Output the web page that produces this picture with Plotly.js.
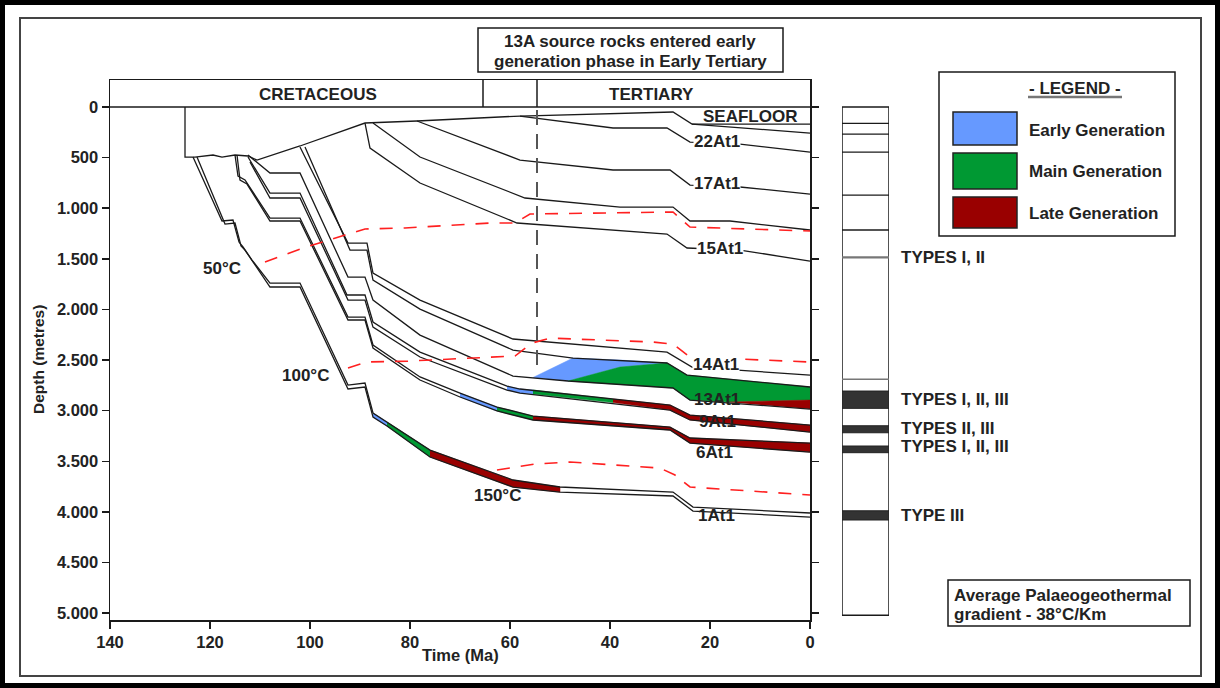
<!DOCTYPE html>
<html><head><meta charset="utf-8">
<script src="https://cdn.plot.ly/plotly-3.0.1.min.js"></script>
<style>html,body{margin:0;padding:0;background:#fff;}#chart{width:1220px;height:688px;}</style>
</head><body><div id="chart"></div>
<script>
// ================= DATA (time in Ma, depth in metres) =================
const xTickVals = [140, 120, 100, 80, 60, 40, 20, 0];
const xTickText = ['140', '120', '100', '80', '60', '40', '20', '0'];
const yTickVals = [0, 500, 1000, 1500, 2000, 2500, 3000, 3500, 4000, 4500, 5000];
const yTickText = ['0', '500', '1.000', '1.500', '2.000', '2.500', '3.000', '3.500', '4.000', '4.500', '5.000'];

const periodNames = ['CRETACEOUS', 'TERTIARY'];
const periodLabelAge = [98.4, 31.8];
const periodBoundaryAges = [65.4, 54.6];
const earlyGenAge = 54.6;
const earlyGenDepths = [30, 2560];

// burial-history horizons
const seafloorT = [125, 125, 123, 119.4, 117.6, 115, 112.4, 110.6, 102, 89, 78.6, 58, 27.4, 23.6, 0];
const seafloorD = [0, 494, 494, 474, 494, 474, 484, 524, 385, 158, 138, 89, 49, 168, 168];
const horizonAT = [23.6, 0];
const horizonAD = [168, 257];
const h22T = [58, 39.4, 28.6, 24, 14, 0];
const h22D = [89, 207, 207, 346, 366, 445];
const h17T = [78.6, 58, 39.4, 28, 24, 14, 0];
const h17D = [138, 524, 622, 622, 771, 790, 860];
const horizonBT = [87.4, 78, 57, 38, 27.4, 24, 16, 0];
const horizonBD = [158, 494, 899, 988, 988, 1126, 1126, 1215];
const h15T = [89, 88, 78, 58.6, 28.6, 24.6, 14, 0];
const h15D = [158, 405, 751, 1146, 1255, 1393, 1413, 1522];
const h14TopT = [102, 92.4, 88.6, 87.4, 78, 59.4, 28.6, 23.6, 0];
const h14TopD = [395, 1344, 1344, 1640, 1907, 2292, 2421, 2569, 2648];
const h14BaseT = [101, 92, 88.6, 87.4, 78, 59.4, 47.4, 28.6, 24.6, 0];
const h14BaseD = [395, 1413, 1413, 1709, 1996, 2401, 2480, 2529, 2648, 2766];
const h13BaseT = [112.4, 108, 102, 92.4, 89, 87.4, 78, 59.4, 48.4, 27.4, 24, 0];
const h13BaseD = [474, 652, 652, 1680, 1680, 1907, 2253, 2658, 2707, 2776, 2895, 2984];
const h9TopT = [112.4, 108, 102, 92.6, 89, 87.4, 78, 60.6, 58, 28, 24, 0];
const h9TopD = [494, 850, 850, 1857, 1857, 2124, 2421, 2757, 2786, 2944, 3043, 3142];
const h9BaseT = [112, 108, 102, 92.4, 89, 87.4, 78, 60.6, 58, 28, 24, 0];
const h9BaseD = [543, 899, 899, 1907, 1907, 2174, 2470, 2796, 2826, 2994, 3092, 3211];
const h6TopT = [115, 114.4, 113, 108, 102, 92.4, 89, 87.4, 78, 70, 62.6, 55.4, 28, 24, 0];
const h6TopD = [474, 682, 721, 1097, 1097, 2075, 2075, 2351, 2667, 2826, 2964, 3053, 3162, 3270, 3320];
const h6BaseT = [114.6, 114, 112.6, 108, 102, 92.4, 89, 87.4, 78, 70, 62.6, 55.4, 28, 24, 0];
const h6BaseD = [474, 721, 761, 1126, 1126, 2104, 2104, 2381, 2697, 2865, 3003, 3092, 3191, 3320, 3409];
const h1TopT = [123.4, 117.6, 115.4, 114.2, 113.4, 111.6, 108, 102, 92.4, 89, 87.4, 84.6, 76, 59.4, 50, 27.4, 23.4, 0];
const h1TopD = [494, 1126, 1116, 1334, 1383, 1512, 1739, 1739, 2747, 2727, 3023, 3112, 3389, 3685, 3754, 3804, 3952, 4011];
const h1BaseT = [122.6, 117, 115, 113.8, 113, 111.2, 108, 102, 92.4, 89, 87.4, 84.6, 76, 59.4, 50, 27.4, 23.4, 0];
const h1BaseD = [494, 1156, 1146, 1373, 1413, 1541, 1778, 1778, 2786, 2766, 3063, 3152, 3458, 3755, 3804, 3843, 3992, 4051];

// generation windows (bands between top and base of a source unit)
const g1EarlyT = [87.4, 84.6], g1EarlyTop = [3023, 3112], g1EarlyBase = [3063, 3152];
const g1MainT = [84.6, 76], g1MainTop = [3112, 3389], g1MainBase = [3152, 3458];
const g1LateT = [76, 59.4, 50], g1LateTop = [3389, 3685, 3754], g1LateBase = [3458, 3755, 3804];
const g6EarlyT = [70, 62.6], g6EarlyTop = [2826, 2964], g6EarlyBase = [2865, 3003];
const g6MainT = [62.6, 55.4], g6MainTop = [2964, 3053], g6MainBase = [3003, 3092];
const g6LateT = [55.4, 28, 24, 0], g6LateTop = [3053, 3162, 3270, 3320], g6LateBase = [3092, 3191, 3320, 3409];
const g9EarlyT = [60.6, 58, 55.4], g9EarlyTop = [2757, 2786, 2796], g9EarlyBase = [2796, 2826, 2835];
const g9MainT = [55.4, 39.4], g9MainTop = [2796, 2885], g9MainBase = [2835, 2920];
const g9LateT = [39.4, 28, 24, 0], g9LateTop = [2885, 2944, 3043, 3142], g9LateBase = [2920, 2994, 3092, 3211];
const g13EarlyT = [55.4, 47.4, 38, 28.6, 38, 48.4, 55.4];
const g13EarlyD = [2672, 2480, 2500, 2529, 2569, 2707, 2672];
const g13MainT = [48.4, 38, 28.6, 24.6, 0, 0, 16.6, 24, 27.4, 48.4];
const g13MainD = [2707, 2569, 2529, 2648, 2766, 2895, 2915, 2895, 2776, 2707];
const g13LateT = [16.6, 0, 0];
const g13LateD = [2915, 2895, 2984];

// isotherms
const iso50T = [109, 101.4, 93, 89, 81, 64, 59, 56, 27.4, 24, 0];
const iso50D = [1531, 1393, 1265, 1205, 1195, 1146, 1146, 1057, 1037, 1186, 1225];
const iso100T = [92.4, 88.6, 80.4, 72, 63.4, 59, 55.6, 52, 31.4, 27.4, 24, 0];
const iso100D = [2579, 2519, 2510, 2490, 2470, 2460, 2332, 2283, 2322, 2342, 2470, 2519];
const iso150T = [62.6, 55, 48, 30, 27, 24, 0];
const iso150D = [3586, 3527, 3507, 3567, 3636, 3754, 3833];
const isoNames = ['50°C', '100°C', '150°C'];

// lithology / kerogen column (present-day depths)
const colBaseDepth = 5020;
const colLineDepths = [161, 267, 445, 870, 1215];
const colGreyLineDepths = [1485, 2690];
const colBandTop = [2806, 3149, 3349, 3989];
const colBandBase = [2977, 3218, 3415, 4080];
const typeLabels = ['TYPES I, II', 'TYPES I, II, III', 'TYPES II, III', 'TYPES I, II, III', 'TYPE III'];
const typeLabelDepths = [1482, 2892, 3180, 3349, 4031];

const legendNames = ['Early Generation', 'Main Generation', 'Late Generation'];
const legendColors = ['#6699ff', '#009933', '#990000'];

// ================= LAYOUT HELPERS =================
const W = 1220, H = 688, ML = 110, MR = 10, MT = 80, MB = 68;
const PW = W - ML - MR, PH = H - MT - MB;
const PX = x => (x - ML) / PW;
const PY = y => (H - MB - y) / PH;
const FONT = 'Arial, "Liberation Sans", sans-serif';
const INK = '#1a1a1a';

const traces = [];
function band(t, top, base, color) {
  traces.push({x: t.concat(t.slice().reverse()), y: top.concat(base.slice().reverse()),
    type: 'scatter', mode: 'lines', fill: 'toself', fillcolor: color,
    line: {width: 0.5, color: color}, hoverinfo: 'skip', showlegend: false});
}
function poly(t, d, color) {
  traces.push({x: t, y: d, type: 'scatter', mode: 'lines', fill: 'toself', fillcolor: color,
    line: {width: 0.5, color: color}, hoverinfo: 'skip', showlegend: false});
}
function line(t, d, color, width, dash) {
  traces.push({x: t, y: d, type: 'scatter', mode: 'lines',
    line: {width: width, color: color, dash: dash || 'solid'}, hoverinfo: 'skip', showlegend: false});
}
const [cE, cM, cL] = legendColors;
band(g1EarlyT, g1EarlyTop, g1EarlyBase, cE);
band(g1MainT, g1MainTop, g1MainBase, cM);
band(g1LateT, g1LateTop, g1LateBase, cL);
band(g6EarlyT, g6EarlyTop, g6EarlyBase, cE);
band(g6MainT, g6MainTop, g6MainBase, cM);
band(g6LateT, g6LateTop, g6LateBase, cL);
band(g9EarlyT, g9EarlyTop, g9EarlyBase, cE);
band(g9MainT, g9MainTop, g9MainBase, cM);
band(g9LateT, g9LateTop, g9LateBase, cL);
poly(g13EarlyT, g13EarlyD, cE);
poly(g13MainT, g13MainD, cM);
poly(g13LateT, g13LateD, cL);

[[seafloorT, seafloorD], [horizonAT, horizonAD], [h22T, h22D], [h17T, h17D], [horizonBT, horizonBD],
 [h15T, h15D], [h14TopT, h14TopD], [h14BaseT, h14BaseD], [h13BaseT, h13BaseD], [h9TopT, h9TopD],
 [h9BaseT, h9BaseD], [h6TopT, h6TopD], [h6BaseT, h6BaseD], [h1TopT, h1TopD], [h1BaseT, h1BaseD]]
  .forEach(([t, d]) => line(t, d, INK, 1.3));

[[iso50T, iso50D], [iso100T, iso100D], [iso150T, iso150D]]
  .forEach(([t, d]) => line(t, d, '#ff2020', 1.6, '13px,11px'));
line([earlyGenAge, earlyGenAge], earlyGenDepths, '#555', 2, '15px,9px');

// ================= SHAPES =================
const shapes = [];
const rectP = (x0, y0, x1, y1, lc, lw, fc) => shapes.push({type: 'rect', xref: 'paper', yref: 'paper',
  x0: PX(x0), x1: PX(x1), y0: PY(y1), y1: PY(y0), line: {color: lc, width: lw}, fillcolor: fc || 'rgba(0,0,0,0)'});
rectP(2.5, 2.5, 1217.5, 685.5, '#000', 5);
rectP(20, 18, 1201, 676, '#444', 2);
rectP(478, 28, 783, 72, INK, 1.5);
rectP(939, 72, 1175, 236, INK, 1.5);
shapes.push({type: 'line', xref: 'paper', yref: 'paper', x0: PX(1028), x1: PX(1122), y0: PY(97), y1: PY(97), line: {color: '#777', width: 2.5}});
const swY = [[112, 145], [153, 189], [197, 228]];
legendColors.forEach((c, i) => rectP(953, swY[i][0], 1017, swY[i][1], '#222', 1.5, c));
rectP(948, 580, 1190, 626, INK, 1.5);

// time header
shapes.push({type: 'line', xref: 'x', yref: 'y', x0: 140, x1: 0, y0: 0, y1: 0, line: {color: INK, width: 1.5}});
periodBoundaryAges.forEach(a => shapes.push({type: 'line', xref: 'x', yref: 'y', x0: a, x1: a, y0: -267, y1: 0, line: {color: INK, width: 1.5}}));

// column
shapes.push({type: 'rect', xref: 'x2', yref: 'y', x0: 0, x1: 1, y0: 0, y1: colBaseDepth, line: {color: INK, width: 1.5}});
colLineDepths.forEach(d => shapes.push({type: 'line', xref: 'x2', yref: 'y', x0: 0, x1: 1, y0: d, y1: d, line: {color: INK, width: 1.3}}));
colGreyLineDepths.forEach((d, i) => shapes.push({type: 'line', xref: 'x2', yref: 'y', x0: 0, x1: 1, y0: d, y1: d, line: {color: '#777', width: i === 0 ? 2.2 : 1.5}}));
colBandTop.forEach((d, i) => shapes.push({type: 'rect', xref: 'x2', yref: 'y', x0: 0, x1: 1, y0: d, y1: colBandBase[i], fillcolor: '#333', line: {color: '#222', width: 1}}));

// ================= ANNOTATIONS =================
const anns = [];
function A(text, x, y, o) {
  o = o || {};
  anns.push(Object.assign({text: text, x: x, y: y, xref: 'paper', yref: 'paper', showarrow: false,
    xanchor: 'center', yanchor: 'middle', font: {family: FONT, size: o.size || 17, color: o.color || '#222', weight: 'bold'}}, o.extra || {}));
}
A('13A source rocks entered early', PX(630), PY(42));
A('generation phase in Early Tertiary', PX(630), PY(62));
A('- LEGEND -', PX(1075), PY(88));
const legY = [130, 171, 214];
legendNames.forEach((n, i) => A(n, PX(1027), PY(legY[i]), {extra: {xanchor: 'left'}}));
A('Average Palaeogeothermal', PX(952), PY(595), {extra: {xanchor: 'left'}});
A('gradient - 38°C/Km', PX(952), PY(614), {extra: {xanchor: 'left'}});
A('Depth (metres)', PX(38), PY(360), {size: 15.5, extra: {textangle: -90}});
A('Time (Ma)', PX(460), PY(655), {size: 16.5});
periodNames.forEach((n, i) => A(n, periodLabelAge[i], -125, {extra: {xref: 'x', yref: 'y'}}));
typeLabels.forEach((n, i) => A(n, PX(899), typeLabelDepths[i], {extra: {xanchor: 'left', yref: 'y'}}));

const horizonLabels = ['SEAFLOOR', '22At1', '17At1', '15At1', '14At1', '13At1', '9At1', '6At1', '1At1'];
const horizonLabelAge = [12, 18.6, 18.6, 18, 18.8, 18.6, 18.6, 19.2, 18.8];
const horizonLabelDepth = [89, 336, 751, 1393, 2539, 2885, 3102, 3409, 4031];
const horizonLabelMask = [false, true, true, true, true, false, false, false, false];
horizonLabels.forEach((n, i) => A(n, horizonLabelAge[i], horizonLabelDepth[i],
  {extra: Object.assign({xref: 'x', yref: 'y'}, horizonLabelMask[i] ? {bgcolor: '#fff', borderpad: 0} : {})}));
const isoLabelAge = [117.6, 101, 62.6];
const isoLabelDepth = [1591, 2648, 3833];
isoNames.forEach((n, i) => A(n, isoLabelAge[i], isoLabelDepth[i], {extra: {xref: 'x', yref: 'y'}}));

// ================= LAYOUT =================
const axisFont = {family: FONT, size: 16.5, color: '#222', weight: 'bold'};
const layout = {
  width: W, height: H, margin: {l: ML, r: MR, t: MT, b: MB, pad: 0},
  paper_bgcolor: '#fff', plot_bgcolor: '#fff', showlegend: false,
  font: {family: FONT},
  xaxis: {domain: [0, PX(810)], range: [140, 0], tickmode: 'array', tickvals: xTickVals, ticktext: xTickText,
    showline: true, mirror: true, linecolor: INK, linewidth: 1.5, ticks: 'outside', ticklen: 7, tickwidth: 1.5,
    tickcolor: INK, showgrid: false, zeroline: false, tickfont: axisFont, fixedrange: true},
  xaxis2: {domain: [PX(842), PX(889)], range: [0, 1], anchor: 'y', visible: false, fixedrange: true},
  yaxis: {range: [5068, -267], tickmode: 'array', tickvals: yTickVals, ticktext: yTickText,
    showline: true, mirror: 'ticks', linecolor: INK, linewidth: 1.5, ticks: 'outside', ticklen: 7, tickwidth: 1.5,
    tickcolor: INK, showgrid: false, zeroline: false, tickfont: axisFont, fixedrange: true},
  shapes: shapes, annotations: anns
};
Plotly.newPlot('chart', traces, layout, {displayModeBar: false, staticPlot: true});
</script></body></html>
